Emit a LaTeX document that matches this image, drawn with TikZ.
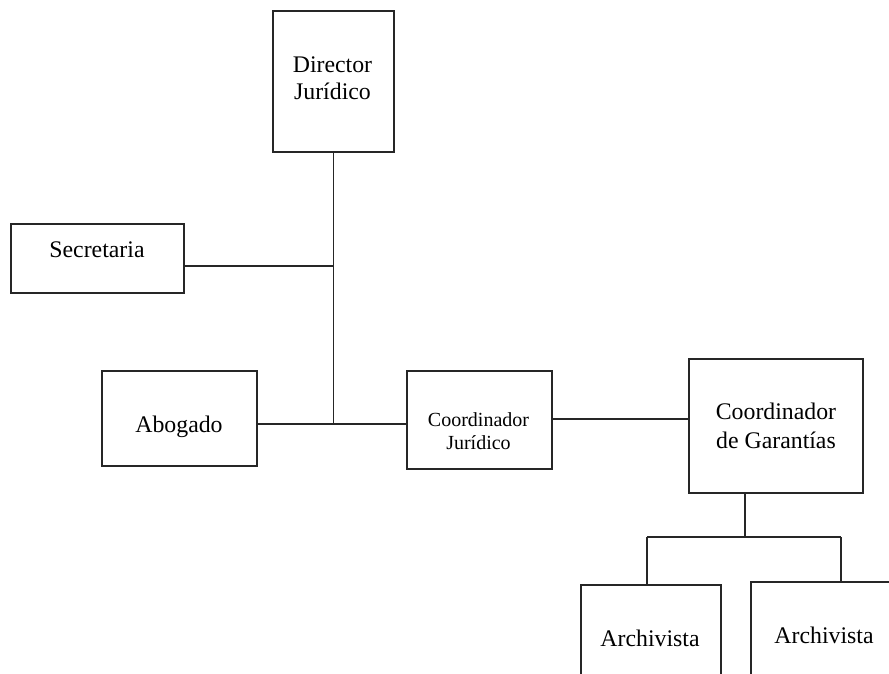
\documentclass[tikz,border=0pt]{standalone}
\usepackage{fontspec}
\setmainfont{Liberation Serif}
\newcommand{\twolines}[2]{\begin{tabular}[t]{@{}c@{}}#1\\#2\end{tabular}}
\begin{document}
\begin{tikzpicture}[x=1pt,y=-1pt,
  box/.style={draw=black!85,line width=1.3pt,inner sep=0pt},
  lbl/.style={anchor=base,inner sep=0pt,font=\fontsize{23.8}{27.5}\selectfont},
  lblwide/.style={anchor=base,inner sep=0pt,font=\fontsize{23.8}{29.3}\selectfont},
  lblsmall/.style={anchor=base,inner sep=0pt,font=\fontsize{20}{23}\selectfont},
  link/.style={draw=black!85,line width=1.3pt}]
\useasboundingbox (0,0) rectangle (889,673);
\clip (0,0) rectangle (889,673);
% boxes
\node[box,minimum width=121pt,minimum height=141pt] (dir) at (333.5,81.5) {};
\node[box,minimum width=173pt,minimum height=69pt] (sec) at (97.5,258.5) {};
\node[box,minimum width=155pt,minimum height=95pt] (abo) at (179.5,418.5) {};
\node[box,minimum width=145pt,minimum height=98pt] (cj) at (479.5,420) {};
\node[box,minimum width=174pt,minimum height=134pt] (cg) at (776,426) {};
\node[box,minimum width=140pt,minimum height=120pt] (ar1) at (651,645) {};
\node[box,minimum width=140pt,minimum height=124pt] (ar2) at (821,644) {};
% texts
\node[lbl] (tdir) at (332.5,72) {\twolines{Director}{Jurídico}};
\node[lbl] (tsec) at (97,257) {Secretaria};
\node[lbl] (tabo) at (179,432) {Abogado};
\node[lblsmall] (tcj) at (478.5,426) {\twolines{Coordinador}{Jurídico}};
\node[lblwide] (tcg) at (776,419) {\twolines{Coordinador}{de Garantías}};
\node[lbl] (tar1) at (650,646) {Archivista};
\node[lbl] (tar2) at (824,643) {Archivista};
% connectors
\coordinate (j1) at (333.5,266);
\coordinate (j2) at (333.5,424);
\coordinate (j3) at (745,537);
\coordinate (b1) at (647,537);
\coordinate (b2) at (841,537);
\draw[link] (dir.south) -- (j2);
\draw[link] (sec.east|-j1) -- (j1);
\draw[link] (abo.east|-j2) -- (cj.west|-j2);
\draw[link] (cj.east|-0,419) -- (cg.west|-0,419);
\draw[link] (cg.south-|j3) -- (j3);
\draw[link] (b1) -- (b2);
\draw[link] (b1) -- (b1|-ar1.north);
\draw[link] (b2) -- (b2|-ar2.north);
\end{tikzpicture}
\end{document}
